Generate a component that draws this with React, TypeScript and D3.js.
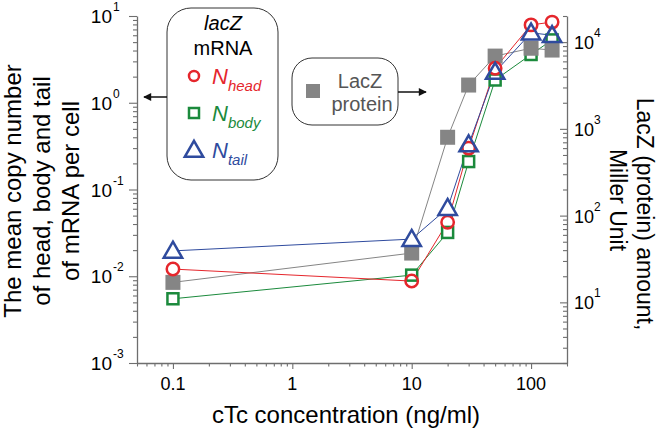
import React, { useRef, useEffect } from 'react';
import * as d3 from 'd3';

// cTc concentration (ng/ml)
const CONC = [0.1, 10, 20, 30, 50, 100, 150];
// mean copy number of mRNA per cell (left axis)
const N_HEAD = [0.0121, 0.0088, 0.042, 0.30, 2.5, 7.9, 8.5];
const N_BODY = [0.0055, 0.0103, 0.032, 0.21, 1.83, 3.6, 5.3];
const N_TAIL = [0.0196, 0.0268, 0.061, 0.33, 2.26, 6.4, 6.0];
// LacZ protein, Miller units (right axis)
const LACZ_PROTEIN = [17, 37, 800, 3200, 6900, 8500, 8100];

const X_LABELS = [0.1, 1, 10, 100];
const LEFT_EXP = [1, 0, -1, -2, -3];
const RIGHT_EXP = [4, 3, 2, 1];

const RED = '#e5262c';
const GREEN = '#1b8a3c';
const BLUE = '#2f4b9e';
const GRAY = '#858585';
const AXIS = '#6e6e6e';
const FONT = 'Liberation Sans, Arial, sans-serif';

const isMajor = (v: number) => Math.abs(Math.log10(v) - Math.round(Math.log10(v))) < 1e-6;

function marker(g: any, shape: string, cx: number, cy: number, s: number, color: string, mode: string) {
    const fill = mode === 'knock' ? '#fff' : mode === 'solid' ? color : 'none';
    const stroke = mode === 'outline' ? color : 'none';
    const sw = 2.5;
    if (shape === 'circle') {
        g.append('circle').attr('cx', cx).attr('cy', cy).attr('r', s)
            .attr('fill', fill).attr('stroke', stroke).attr('stroke-width', sw);
    } else if (shape === 'square') {
        g.append('rect').attr('x', cx - s).attr('y', cy - s).attr('width', 2 * s).attr('height', 2 * s)
            .attr('fill', fill).attr('stroke', stroke).attr('stroke-width', sw);
    } else {
        const p = `M${cx},${cy - s * 1.15}L${cx + s * 1.15},${cy + s * 0.85}L${cx - s * 1.15},${cy + s * 0.85}Z`;
        g.append('path').attr('d', p).attr('fill', fill).attr('stroke', stroke)
            .attr('stroke-width', sw).attr('stroke-linejoin', 'miter');
    }
}

function App() {
    const svgRef = useRef<SVGSVGElement>(null);
    const width = 661;
    const height = 428;
    const plot = { left: 137, right: 567, top: 16, bottom: 363 };

    useEffect(() => {
        const svg = d3.select(svgRef.current);
        svg.selectAll('*').remove();

        const x = d3.scaleLog().domain([0.05, 200]).range([plot.left, plot.right]);
        const yL = d3.scaleLog().domain([1e-3, 10]).range([plot.bottom, plot.top]);
        const yR = d3.scaleLog().domain([2, 20000]).range([plot.bottom, plot.top]);

        svg.append('defs').append('marker')
            .attr('id', 'ah').attr('viewBox', '0 0 10 10').attr('refX', 9).attr('refY', 5)
            .attr('markerWidth', 9).attr('markerHeight', 8).attr('markerUnits', 'userSpaceOnUse')
            .attr('orient', 'auto')
            .append('path').attr('d', 'M0,0L10,5L0,10Z').attr('fill', '#111');

        // axes
        const xAxis = svg.append('g').attr('transform', `translate(0,${plot.bottom})`)
            .call(d3.axisBottom(x).tickFormat(() => '').tickSizeOuter(0));
        xAxis.selectAll('.tick line').attr('y2', (d: any) => (isMajor(d) ? 6 : 3.5));

        const lAxis = svg.append('g').attr('transform', `translate(${plot.left},0)`)
            .call(d3.axisLeft(yL).tickFormat(() => '').tickSizeOuter(0));
        lAxis.selectAll('.tick line').attr('x2', (d: any) => (isMajor(d) ? -8 : -4));

        const rAxis = svg.append('g').attr('transform', `translate(${plot.right},0)`)
            .call(d3.axisLeft(yR).tickFormat(() => '').tickSizeOuter(0));
        rAxis.selectAll('.tick line').attr('x2', (d: any) => (isMajor(d) ? -7 : -4));

        svg.selectAll('.domain').attr('stroke', AXIS).attr('stroke-width', 1.3);
        svg.selectAll('.tick line').attr('stroke', AXIS).attr('stroke-width', 1.1);

        // tick labels
        svg.append('g').selectAll('text').data(X_LABELS).enter().append('text')
            .attr('x', d => x(d)).attr('y', 390).attr('text-anchor', 'middle')
            .attr('font-family', FONT).attr('font-size', 18).text(d => String(d));

        LEFT_EXP.forEach(e => {
            const yy = yL(Math.pow(10, e));
            svg.append('text').attr('x', 112).attr('y', yy + 7).attr('text-anchor', 'end')
                .attr('font-family', FONT).attr('font-size', 19).text('10');
            svg.append('text').attr('x', 113).attr('y', yy - 5).attr('font-family', FONT)
                .attr('font-size', 12).text(e < 0 ? `-${-e}` : String(e));
        });
        RIGHT_EXP.forEach(e => {
            const yy = yR(Math.pow(10, e));
            svg.append('text').attr('x', 574).attr('y', yy + 7)
                .attr('font-family', FONT).attr('font-size', 18).text('10');
            svg.append('text').attr('x', 594).attr('y', yy - 5)
                .attr('font-family', FONT).attr('font-size', 12).text(String(e));
        });

        // axis titles
        svg.append('text').attr('x', 346).attr('y', 423).attr('text-anchor', 'middle')
            .attr('font-family', FONT).attr('font-size', 24).text('cTc concentration (ng/ml)');
        ['The mean copy number', 'of head, body and tail', 'of mRNA per cell'].forEach((t, i) => {
            svg.append('text').attr('transform', `translate(${21 + i * 29},191) rotate(-90)`)
                .attr('text-anchor', 'middle').attr('font-family', FONT).attr('font-size', 24).text(t);
        });
        svg.append('text').attr('transform', 'translate(637,214) rotate(90)')
            .attr('text-anchor', 'middle').attr('font-family', FONT).attr('font-size', 23)
            .text('LacZ (protein) amount,');
        svg.append('text').attr('transform', 'translate(610,200) rotate(90)')
            .attr('text-anchor', 'middle').attr('font-family', FONT).attr('font-size', 23)
            .text('Miller Unit');

        // series
        const series = [
            { vals: N_BODY, y: yL, color: GREEN, shape: 'square', size: 5.5, mode: 'outline' },
            { vals: LACZ_PROTEIN, y: yR, color: GRAY, shape: 'square', size: 7.5, mode: 'solid' },
            { vals: N_HEAD, y: yL, color: RED, shape: 'circle', size: 6.2, mode: 'outline' },
            { vals: N_TAIL, y: yL, color: BLUE, shape: 'triangle', size: 8, mode: 'outline' },
        ];
        const lines = svg.append('g');
        series.forEach(s => {
            const line = d3.line<number>().x((_, i) => x(CONC[i])).y(d => s.y(d));
            lines.append('path').attr('d', line(s.vals)).attr('fill', 'none')
                .attr('stroke', s.color).attr('stroke-width', 1);
        });
        const knock = svg.append('g');
        series.forEach(s => {
            if (s.mode === 'solid') return;
            s.vals.forEach((v, i) => marker(knock, s.shape, x(CONC[i]), s.y(v), s.size, s.color, 'knock'));
        });
        const marks = svg.append('g');
        series.forEach(s => {
            s.vals.forEach((v, i) => marker(marks, s.shape, x(CONC[i]), s.y(v), s.size, s.color, s.mode));
        });

        // legend: mRNA
        const lg = svg.append('g');
        lg.append('rect').attr('x', 167).attr('y', 8).attr('width', 111).attr('height', 172)
            .attr('rx', 24).attr('fill', '#fff').attr('stroke', '#333').attr('stroke-width', 1);
        lg.append('text').attr('x', 223).attr('y', 30).attr('text-anchor', 'middle')
            .attr('font-family', FONT).attr('font-size', 20).attr('font-style', 'italic').text('lacZ');
        lg.append('text').attr('x', 223).attr('y', 55).attr('text-anchor', 'middle')
            .attr('font-family', FONT).attr('font-size', 20).text('mRNA');
        const entries = [
            { shape: 'circle', color: RED, sub: 'head', y: 76, size: 5 },
            { shape: 'square', color: GREEN, sub: 'body', y: 113, size: 5 },
            { shape: 'triangle', color: BLUE, sub: 'tail', y: 150, size: 8 },
        ];
        entries.forEach(e => {
            marker(lg, e.shape, 194, e.y, e.size, e.color, 'outline');
            const t = lg.append('text').attr('x', 212).attr('y', e.y + 8)
                .attr('font-family', FONT).attr('font-style', 'italic').attr('fill', e.color);
            t.append('tspan').attr('font-size', 22).text('N');
            t.append('tspan').attr('font-size', 15).attr('dy', 7).text(e.sub);
        });
        lg.append('line').attr('x1', 167).attr('y1', 97).attr('x2', 144).attr('y2', 97)
            .attr('stroke', '#111').attr('stroke-width', 1.5).attr('marker-end', 'url(#ah)');

        // legend: protein
        lg.append('rect').attr('x', 292).attr('y', 58).attr('width', 106).attr('height', 67)
            .attr('rx', 20).attr('fill', '#fff').attr('stroke', '#333').attr('stroke-width', 1);
        marker(lg, 'square', 313, 91, 7, GRAY, 'solid');
        lg.append('text').attr('x', 360).attr('y', 88).attr('text-anchor', 'middle')
            .attr('font-family', FONT).attr('font-size', 20).attr('fill', '#555').text('LacZ');
        lg.append('text').attr('x', 362).attr('y', 111).attr('text-anchor', 'middle')
            .attr('font-family', FONT).attr('font-size', 20).attr('fill', '#555').text('protein');
        lg.append('line').attr('x1', 398).attr('y1', 92).attr('x2', 426).attr('y2', 92)
            .attr('stroke', '#111').attr('stroke-width', 1.5).attr('marker-end', 'url(#ah)');
    }, []);

    return (
        <svg
            ref={svgRef}
            width={width}
            height={height}
            style={{ position: 'absolute', left: 0, top: 0, background: '#fff' }}
        />
    );
}

export default App;
